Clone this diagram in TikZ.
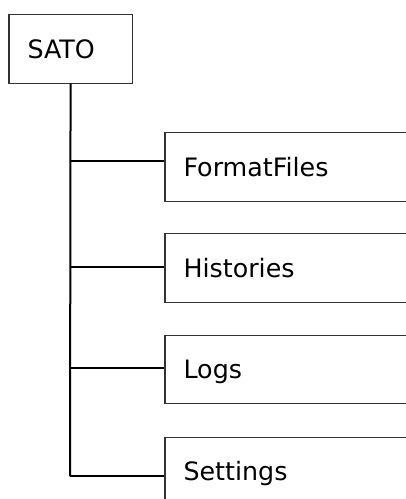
\documentclass[tikz,border=0pt]{standalone}
\usepackage{fontspec}
\setmainfont{DejaVu Sans}
\begin{document}
\begin{tikzpicture}[x=0.75pt,y=-0.75pt,
  box/.style={draw=black!80, line width=0.9pt, anchor=north west, inner xsep=14pt,
    minimum height=51.4pt, align=left, text height=13.8pt, text depth=0pt,
    font=\fontsize{19}{22}\selectfont},
  rootbox/.style={box, text width=64.5pt, minimum width=92.5pt},
  leafbox/.style={box, text width=171.5pt, minimum width=199.5pt},
  link/.style={line width=1.5pt, black}]
\useasboundingbox (0,0) rectangle (406,499);
\clip (0,0) rectangle (406,499);
\node[rootbox] (sato) at (8.3,14) {SATO};
\node[leafbox] (ff) at (164.3,132) {FormatFiles};
\node[leafbox] (hi) at (164.3,233.2) {Histories};
\node[leafbox] (lo) at (164.3,334.7) {Logs};
\node[leafbox] (se) at (164.3,436.5) {Settings};
\coordinate (j1) at (70,160.7);
\coordinate (j2) at (70,267);
\coordinate (j3) at (70,368.3);
\coordinate (j4) at (70,476.3);
\draw[link] (sato.south) -- (j4);
\draw[link] (j1) -- (j1 -| ff.west);
\draw[link] (j2) -- (j2 -| hi.west);
\draw[link] (j3) -- (j3 -| lo.west);
\draw[link] (j4) -- (j4 -| se.west);
\end{tikzpicture}
\end{document}
